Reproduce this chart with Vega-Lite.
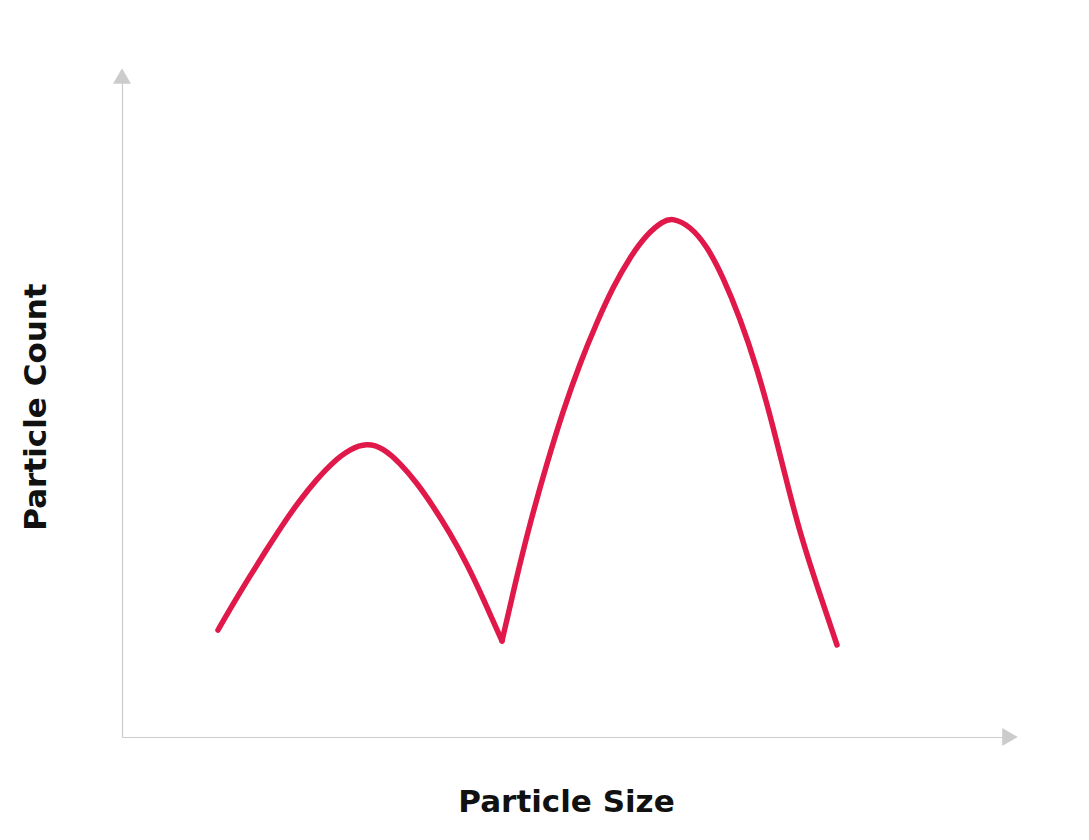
{
  "$schema": "https://vega.github.io/schema/vega-lite/v6.json",
  "width": 888,
  "height": 661,
  "autosize": "none",
  "padding": {"left": 122, "top": 76, "right": 79, "bottom": 103},
  "background": "white",
  "config": {
    "view": {"stroke": null},
    "axis": {
      "grid": false,
      "ticks": false,
      "labels": false,
      "domainColor": "#cccccc",
      "domainWidth": 1.2,
      "titleFont": "DejaVu Sans",
      "titleFontWeight": "bold",
      "titleFontSize": 31,
      "titleColor": "#111111",
      "titleBaseline": "alphabetic"
    }
  },
  "datasets": {
    "curve": [
      {"size": 96, "count": 107, "seg": "a"},
      {"size": 111, "count": 133, "seg": "a"},
      {"size": 128, "count": 161, "seg": "a"},
      {"size": 145, "count": 188, "seg": "a"},
      {"size": 161, "count": 213, "seg": "a"},
      {"size": 178, "count": 237, "seg": "a"},
      {"size": 195, "count": 258, "seg": "a"},
      {"size": 211, "count": 275, "seg": "a"},
      {"size": 228, "count": 288, "seg": "a"},
      {"size": 245, "count": 294, "seg": "a"},
      {"size": 261, "count": 289, "seg": "a"},
      {"size": 278, "count": 274, "seg": "a"},
      {"size": 295, "count": 254, "seg": "a"},
      {"size": 311, "count": 231, "seg": "a"},
      {"size": 328, "count": 204, "seg": "a"},
      {"size": 345, "count": 173, "seg": "a"},
      {"size": 361, "count": 139, "seg": "a"},
      {"size": 380, "count": 96, "seg": "a"},
      {"size": 380, "count": 96, "seg": "b"},
      {"size": 393, "count": 153, "seg": "b"},
      {"size": 408, "count": 214, "seg": "b"},
      {"size": 425, "count": 274, "seg": "b"},
      {"size": 441, "count": 326, "seg": "b"},
      {"size": 458, "count": 374, "seg": "b"},
      {"size": 475, "count": 415, "seg": "b"},
      {"size": 491, "count": 450, "seg": "b"},
      {"size": 508, "count": 480, "seg": "b"},
      {"size": 525, "count": 503, "seg": "b"},
      {"size": 541, "count": 516, "seg": "b"},
      {"size": 551, "count": 519, "seg": "b"},
      {"size": 568, "count": 511, "seg": "b"},
      {"size": 585, "count": 491, "seg": "b"},
      {"size": 601, "count": 460, "seg": "b"},
      {"size": 618, "count": 419, "seg": "b"},
      {"size": 635, "count": 369, "seg": "b"},
      {"size": 651, "count": 311, "seg": "b"},
      {"size": 665, "count": 254, "seg": "b"},
      {"size": 678, "count": 204, "seg": "b"},
      {"size": 695, "count": 151, "seg": "b"},
      {"size": 715, "count": 92, "seg": "b"}
    ],
    "arrowUp": [{"size": 0, "count": 661}],
    "arrowRight": [{"size": 888, "count": 0}]
  },
  "layer": [
    {
      "data": {"name": "curve"},
      "mark": {"type": "line", "color": "#e0194a", "strokeWidth": 5.5, "interpolate": "basis", "strokeCap": "round", "strokeJoin": "miter"},
      "encoding": {
        "x": {"field": "size", "type": "quantitative", "scale": {"domain": [0, 888], "nice": false}, "axis": {"title": "Particle Size", "titlePadding": 74}},
        "y": {"field": "count", "type": "quantitative", "scale": {"domain": [0, 661], "nice": false}, "axis": {"title": "Particle Count", "titlePadding": 77}},
        "detail": {"field": "seg", "type": "nominal"}
      }
    },
    {
      "data": {"name": "arrowUp"},
      "mark": {"type": "point", "shape": "triangle-up", "filled": true, "opacity": 1, "color": "#cccccc", "size": 324},
      "encoding": {
        "x": {"field": "size", "type": "quantitative"},
        "y": {"field": "count", "type": "quantitative"}
      }
    },
    {
      "data": {"name": "arrowRight"},
      "mark": {"type": "point", "shape": "triangle-right", "filled": true, "opacity": 1, "color": "#cccccc", "size": 324},
      "encoding": {
        "x": {"field": "size", "type": "quantitative"},
        "y": {"field": "count", "type": "quantitative"}
      }
    }
  ]
}
